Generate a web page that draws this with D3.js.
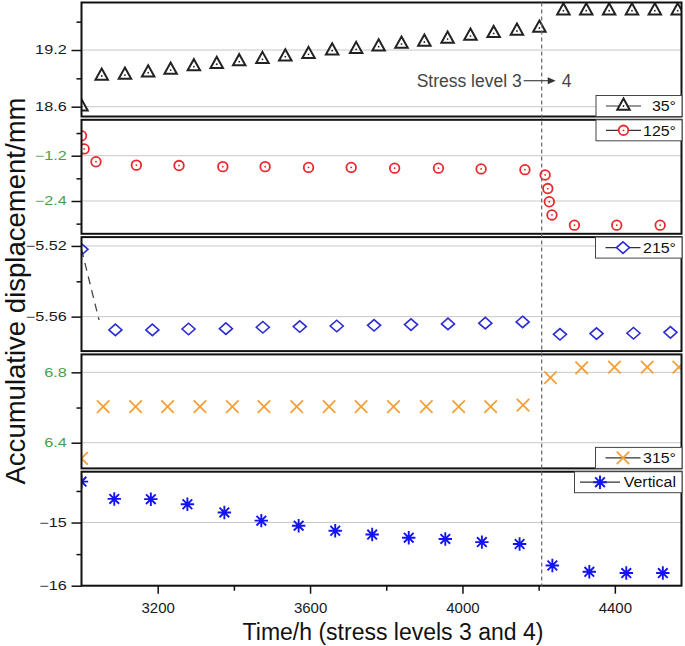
<!DOCTYPE html>
<html><head><meta charset="utf-8">
<script src="https://cdn.jsdelivr.net/npm/d3@7"></script>
<style>body{margin:0;background:#fff} svg{display:block} text{font-family:"Liberation Sans",Arial,sans-serif}</style>
</head><body><svg id="c" width="685" height="646"></svg>
<script>
// ---- data ----
const time35 = [3000,3053,3114,3175,3234,3295,3355,3414,3475,3535,3596,3658,3721,3780,3840,3900,3961,4021,4082,4143,4202,4265,4325,4385,4445,4505,4565];
const disp35 = [18.60,18.925,18.935,18.96,18.988,19.024,19.049,19.077,19.101,19.129,19.154,19.193,19.207,19.235,19.263,19.285,19.316,19.348,19.376,19.401,19.433,19.616,19.616,19.616,19.616,19.616,19.616];
const time125 = [3000,3007,3038,3144,3256,3371,3482,3596,3708,3822,3937,4049,4164,4217,4224,4228,4235,4294,4405,4519];
const disp125 = [-0.67,-1.02,-1.36,-1.45,-1.46,-1.49,-1.49,-1.51,-1.51,-1.53,-1.53,-1.55,-1.57,-1.71,-2.07,-2.42,-2.77,-3.04,-3.04,-3.04];
const time215 = [3000,3089,3186,3281,3379,3476,3573,3670,3768,3865,3962,4060,4158,4256,4352,4449,4546];
const disp215 = [-5.5219,-5.5675,-5.5675,-5.5670,-5.5668,-5.5660,-5.5656,-5.5653,-5.5649,-5.5645,-5.5641,-5.5637,-5.5630,-5.5700,-5.5696,-5.5694,-5.5689];
const time315 = [3000,3057,3142,3226,3311,3396,3479,3565,3650,3734,3819,3905,3990,4074,4159,4231,4313,4399,4485,4568];
const disp315 = [6.311,6.605,6.605,6.605,6.605,6.605,6.605,6.605,6.605,6.605,6.605,6.605,6.605,6.605,6.614,6.77,6.826,6.83,6.83,6.83];
const timeVert = [3000,3086,3182,3278,3375,3472,3570,3666,3763,3859,3955,4051,4150,4236,4333,4430,4526];
const dispVert = [-14.352,-14.626,-14.63,-14.71,-14.84,-14.97,-15.05,-15.13,-15.19,-15.24,-15.26,-15.31,-15.34,-15.68,-15.78,-15.80,-15.80];
const guide215 = [[3000,-5.5219],[3046,-5.5619]];

const seriesNames = ["35°","125°","215°","315°","Vertical"];
const yDomains = [[18.496,19.703],[-3.269,-0.249],[-5.5795,-5.515],[6.254,6.902],[-16,-14.195]];
const yMajor = [[18.6,19.2],[-2.4,-1.2],[-5.56,-5.52],[6.4,6.8],[-16,-15]];
const yMinor = [[18.9,19.5],[-3.0,-1.8,-0.6],[-5.54],[6.6],[-15.5,-14.5]];
const yFormats = [".1f",".1f",".2f",".1f",".0f"];
const xDomain = [3000,4575];
const xMajor = [3200,3600,4000,4400];
const xMinor = [3400,3800,4200];
const stressChange = 4208;
const xTitle = "Time/h (stress levels 3 and 4)";
const yTitle = "Accumulative displacement/mm";

// ---- layout ----
const svg = d3.select("#c");
const L = 81.5, R = 681.5;
const tops = [2.5,119.8,237.1,354.4,471.7];
const PH = 114;
const x = d3.scaleLinear(xDomain,[L,R]);

// custom symbol types
const triType = {draw(c,size){const s=Math.sqrt(size),h=s*0.9;c.moveTo(0,-h*2/3);c.lineTo(s/2,h/3);c.lineTo(-s/2,h/3);c.closePath();}};
const diaType = {draw(c,size){const s=Math.sqrt(size);c.moveTo(0,-s*0.44);c.lineTo(s/2,0);c.lineTo(0,s*0.44);c.lineTo(-s/2,0);c.closePath();}};
const timesType = {draw(c,size){const r=Math.sqrt(size)/2;c.moveTo(-r,-r);c.lineTo(r,r);c.moveTo(r,-r);c.lineTo(-r,r);}};
const astType = {draw(c,size){const r=Math.sqrt(size)/2,d=r*0.72;c.moveTo(-r,0);c.lineTo(r,0);c.moveTo(0,-r);c.lineTo(0,r);c.moveTo(-d,-d);c.lineTo(d,d);c.moveTo(d,-d);c.lineTo(-d,d);}};

const series = [
  {t:time35,v:disp35,type:triType,size:155,stroke:"#222",sw:2,dot:true},
  {t:time125,v:disp125,type:d3.symbolCircle,size:72,stroke:"#e8282c",sw:1.8,dot:true},
  {t:time215,v:disp215,type:diaType,size:170,stroke:"#2b2bd4",sw:1.6,dot:false},
  {t:time315,v:disp315,type:timesType,size:155,stroke:"#f2a03a",sw:1.8,dot:false},
  {t:timeVert,v:dispVert,type:astType,size:180,stroke:"#1414f0",sw:1.9,dot:false}
];
const legendBox = [
  {x0:596,bottom:true},{x0:596,bottom:false},{x0:595.5,bottom:false},{x0:595.5,bottom:true},{x0:574.5,bottom:false}
];
const green = "#4a9e4a";

series.forEach((s,i)=>{
  const top = tops[i], bot = top+PH;
  const y = d3.scaleLinear(yDomains[i],[bot,top]);
  const g = svg.append("g");
  const cid = "clip"+i;
  svg.append("clipPath").attr("id",cid).append("rect").attr("x",L).attr("y",top).attr("width",R-L).attr("height",PH);
  // grid
  g.selectAll(".grid").data(yMajor[i]).join("line")
    .attr("x1",L).attr("x2",R).attr("y1",d=>y(d)).attr("y2",d=>y(d))
    .attr("stroke","#c8c8c8").attr("stroke-width",1);
  // axes
  const ax = g.append("g").attr("transform",`translate(${L},0)`)
    .call(d3.axisLeft(y).tickValues(yMajor[i]).tickSize(10).tickFormat(d3.format(yFormats[i])));
  ax.select(".domain").remove();
  ax.selectAll("line").attr("stroke","#111").attr("stroke-width",1.5);
  ax.selectAll("text").attr("x",-11).attr("transform","scale(1.35,1)")
    .attr("font-size",12).attr("font-family","Liberation Sans, Arial, sans-serif")
    .attr("fill",(i===1||i===3)?green:"#1a1a1a");
  const axm = g.append("g").attr("transform",`translate(${L},0)`)
    .call(d3.axisLeft(y).tickValues(yMinor[i]).tickSize(5).tickFormat(""));
  axm.select(".domain").remove();
  axm.selectAll("line").attr("stroke","#111").attr("stroke-width",1.5);
  // guide dashed line in 215 panel
  const pg = g.append("g").attr("clip-path",`url(#${cid})`);
  if(i===2){
    pg.append("path").attr("d",d3.line().x(d=>x(d[0])).y(d=>y(d[1]))(guide215))
      .attr("fill","none").attr("stroke","#444").attr("stroke-width",1.3).attr("stroke-dasharray","8,6");
  }
  const pts = s.t.map((t,k)=>[t,s.v[k]]);
  const sym = d3.symbol().type(s.type).size(s.size);
  pg.selectAll(".m").data(pts).join("path")
    .attr("transform",d=>`translate(${x(d[0])},${y(d[1])})`)
    .attr("d",sym).attr("fill","none").attr("stroke",s.stroke).attr("stroke-width",s.sw);
  if(s.dot){
    pg.selectAll(".d").data(pts).join("circle")
      .attr("cx",d=>x(d[0])).attr("cy",d=>y(d[1])).attr("r",0.9).attr("fill",s.stroke);
  }
  // border
  g.append("rect").attr("x",L).attr("y",top).attr("width",R-L).attr("height",PH)
    .attr("fill","none").attr("stroke","#111").attr("stroke-width",2);
  // legend
  const lb = legendBox[i];
  const bh = 21;
  const by = lb.bottom ? bot-bh : top;
  const lg = svg.append("g").attr("class","legend"+i);
  lg.append("rect").attr("x",lb.x0).attr("y",by).attr("width",682-lb.x0).attr("height",bh)
    .attr("fill","#fff").attr("stroke","#444").attr("stroke-width",1);
  const cy = by+bh/2;
  const lx0 = lb.x0+ (i===4?5.5:10), lx1 = lb.x0+(i===4?45.5:45), mx=(lx0+lx1)/2;
  lg.append("line").attr("x1",lx0).attr("x2",lx1).attr("y1",cy).attr("y2",cy).attr("stroke","#333").attr("stroke-width",1.2);
  lg.append("path").attr("transform",`translate(${mx},${cy})`).attr("d",sym)
    .attr("fill","#fff").attr("stroke",s.stroke).attr("stroke-width",s.sw);
  if(s.dot) lg.append("circle").attr("cx",mx).attr("cy",cy).attr("r",0.9).attr("fill",s.stroke);
  lg.append("text").attr("transform",`translate(676,${cy+5.2}) scale(1.1,1)`).attr("text-anchor","end")
    .attr("font-size",14.5).attr("fill","#111").text(seriesNames[i]);

  if(i===4){
    const xa = svg.append("g").attr("transform",`translate(0,${bot})`)
      .call(d3.axisBottom(x).tickValues(xMajor).tickSize(8).tickPadding(8.3).tickFormat(d3.format("d")));
    xa.select(".domain").remove();
    xa.selectAll("line").attr("stroke","#111").attr("stroke-width",1.5);
    xa.selectAll("text").attr("font-size",15).attr("font-family","Liberation Sans, Arial, sans-serif").attr("fill","#1a1a1a");
    const xm = svg.append("g").attr("transform",`translate(0,${bot})`)
      .call(d3.axisBottom(x).tickValues(xMinor).tickSize(5).tickFormat(""));
    xm.select(".domain").remove();
    xm.selectAll("line").attr("stroke","#111").attr("stroke-width",1.5);
  }
});

// stress change dashed line
const sx = x(stressChange);
svg.append("line").attr("x1",sx).attr("x2",sx).attr("y1",tops[0]).attr("y2",tops[4]+PH)
  .attr("stroke","#666").attr("stroke-width",1.2).attr("stroke-dasharray","4,3");

// annotation
svg.append("text").attr("x",sx-20).attr("y",86.7).attr("text-anchor","end").attr("font-size",17.5).attr("fill","#444").text("Stress level 3");
svg.append("line").attr("x1",sx-18).attr("x2",sx+8).attr("y1",80.7).attr("y2",80.7).attr("stroke","#444").attr("stroke-width",1.2);
svg.append("path").attr("d",`M${sx+14},80.7 L${sx+6},77.2 L${sx+6},84.2 Z`).attr("fill","#333");
svg.append("text").attr("x",sx+20).attr("y",86.7).attr("font-size",17.5).attr("fill","#444").text("4");

// titles
svg.append("text").attr("x",393).attr("y",640).attr("text-anchor","middle").attr("font-size",23).attr("fill","#111").text(xTitle);
svg.append("text").attr("transform","translate(25,291) rotate(-90)").attr("text-anchor","middle").attr("font-size",27)
  .attr("textLength",387).attr("lengthAdjust","spacingAndGlyphs").attr("fill","#111").text(yTitle);
</script>
</body></html>
